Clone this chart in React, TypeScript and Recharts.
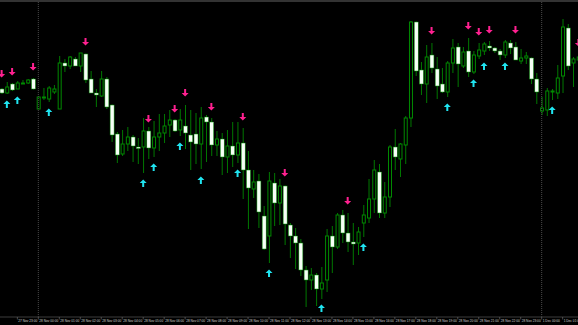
import { ComposedChart, Bar, Scatter, XAxis, YAxis, ReferenceLine } from "recharts";

// M15 candles, prices in chart points (higher = up)
const opens = [
  228, 224, 233, 228, 233.5, 234, 238, 208, 219.5, 218,
  225, 208, 254, 251, 258, 251, 263, 238, 224, 221,
  238, 212, 183, 163, 173, 180, 170, 170, 186, 169,
  180, 184, 192, 197, 187, 191, 182, 183, 173, 200,
  195, 172, 178, 160, 171, 162, 174, 147, 128, 136,
  101, 81, 134, 114, 131, 92, 81, 74, 47, 37,
  42, 28, 37, 81, 70, 102, 84, 75, 74, 94,
  99, 118, 145, 104, 120, 170, 158, 172, 199, 295,
  247, 233, 262, 248, 233, 225, 254, 270, 251, 266,
  245, 261, 266, 271, 269, 266, 262, 274, 270, 256,
  259, 259, 238, 206, 207, 225, 224, 241, 289, 254, 257,
];
const highs = [
  229, 235, 234, 236, 237, 238, 239, 221, 229, 231,
  232, 261, 258, 261, 260, 264, 263.5, 246, 228, 246,
  240, 212.5, 185, 187, 190, 182, 179, 199, 190, 196,
  203, 203, 207, 198, 208, 212, 207, 204, 210, 202,
  199, 186, 184, 187, 195, 195, 189, 166, 147, 143,
  111, 145, 144, 138, 131.5, 94, 89, 78, 51, 49,
  44, 50, 88, 91, 104, 107, 104, 94, 90, 112,
  138, 157, 153, 135, 172, 188, 174, 201, 296, 295.5,
  255, 272, 274, 260, 249, 256, 278, 274, 270, 279,
  266, 274, 275, 276, 270, 268, 277, 277, 275, 268,
  265, 259.5, 244, 220, 229, 228, 252, 298, 293, 260, 262,
];
const lows = [
  223, 223, 226, 228, 233, 233, 227.5, 208, 217, 215,
  223, 208, 245, 248, 251, 245, 234, 224, 210, 220,
  208, 175, 154, 161, 166, 155, 153, 144, 158, 160,
  166, 174, 180, 185, 181, 168, 147, 153, 148, 155,
  161, 161, 142, 144, 150, 154, 118, 88, 119, 89,
  67, 54, 91, 92, 72, 59, 48, 41, 10, 27,
  11, 18, 25, 44, 68, 74, 65, 52, 62, 80,
  94, 104, 99, 99, 110, 147, 140, 153, 190, 241,
  222, 214, 244, 218, 224, 220, 244, 230, 249, 240,
  243, 258, 262, 266, 264, 257, 259, 263, 257, 253,
  253, 233, 213, 202, 201, 217, 218, 224, 247, 230, 255,
];
const closes = [
  224, 230, 227, 234, 234, 237, 228, 220, 220, 229,
  228, 254, 251, 260, 251, 264, 237, 224, 222, 238,
  210, 182, 162, 173, 180, 171, 168.5, 186, 169, 180,
  184, 191, 197, 186, 197, 184, 175, 173, 199, 195,
  172, 178, 160, 171, 162, 174, 147, 129, 135, 105,
  68, 136, 114, 131, 93, 81, 74, 47, 37, 42,
  28, 34, 81, 70, 102, 84, 75, 73, 85, 102,
  118, 147, 104, 120, 170, 160, 173, 199, 295, 246,
  233, 260, 249, 231, 225, 254, 269, 253, 265, 245,
  262, 267, 273, 269, 266, 262, 275, 269, 257, 259,
  261, 238, 225, 209, 226, 226, 239, 290, 251, 258, 260,
];

// [bar, price] of the indicator arrows
const sellSignals = [
  [0, 243], [2, 245], [6, 250], [16, 275], [28, 198], [33, 208], [35, 224], [40, 210],
  [46, 200], [54, 144], [66, 116], [82, 286], [89, 291], [91, 285], [93, 287], [98, 287], [110, 274],
];
const buySignals = [
  [1, 213], [3, 217], [9, 205], [27, 134], [29, 150], [34, 171], [38, 137], [45, 144],
  [51, 44], [61, 9], [69, 70], [85, 210], [90, 234], [92, 251], [96, 251], [105, 207],
];

const tickLabels = [
  "27 Nov 23:00", "28 Nov 00:00", "28 Nov 01:00", "28 Nov 02:00", "28 Nov 03:00", "28 Nov 04:00",
  "28 Nov 05:00", "28 Nov 06:00", "28 Nov 07:00", "28 Nov 08:00", "28 Nov 09:00", "28 Nov 10:00",
  "28 Nov 11:00", "28 Nov 12:00", "28 Nov 13:00", "28 Nov 14:00", "28 Nov 15:00", "28 Nov 16:00",
  "28 Nov 17:00", "28 Nov 18:00", "28 Nov 19:00", "28 Nov 20:00", "28 Nov 21:00", "28 Nov 22:00",
  "28 Nov 23:00", "1 Dec 00:00", "1 Dec 01:00",
];
const firstLabelBar = 3;
const barsPerLabel = 4;
const daySeparators = [7, 103];

const sellMap = new Map(sellSignals.map(([b, p]) => [b, p]));
const buyMap = new Map(buySignals.map(([b, p]) => [b, p]));

const data = opens.map((o, i) => ({
  bar: i,
  open: o,
  high: highs[i],
  low: lows[i],
  close: closes[i],
  sell: sellMap.get(i) ?? null,
  buy: buyMap.get(i) ?? null,
}));

const OUTLINE = "#008a00";
const WICK = "#007800";

const Candle = (props: any) => {
  const { x, y, width, height, payload } = props;
  if (!payload) return <g />;
  const top = Math.min(y, y + height);
  const h = Math.abs(height);
  const range = payload.high - payload.low;
  const k = range > 0 ? h / range : 0;
  const yOf = (v: number) => top + (payload.high - v) * k;
  const bull = payload.close >= payload.open;
  const bTop = yOf(Math.max(payload.open, payload.close));
  const bBot = yOf(Math.min(payload.open, payload.close));
  const bh = Math.max(1, bBot - bTop);
  const cx = x + width / 2;
  return (
    <g>
      <line x1={cx} x2={cx} y1={top} y2={top + h} stroke={WICK} strokeWidth={1} />
      {bull ? (
        <rect x={x + 0.5} y={bTop} width={width - 1} height={bh} fill="#000" stroke={OUTLINE} strokeWidth={1} />
      ) : (
        <rect x={x} y={bTop} width={width} height={bh} fill="#f6fff6" stroke={OUTLINE} strokeWidth={0.5} />
      )}
    </g>
  );
};

const SellArrow = (props: any) => {
  const { cx, cy, payload } = props;
  if (!payload || payload.sell == null) return <g />;
  const pts = [[-1, -4], [1, -4], [1, 0], [3.5, 0], [0, 3.5], [-3.5, 0], [-1, 0]]
    .map(([dx, dy]) => `${cx + dx},${cy + dy}`).join(" ");
  return <polygon points={pts} fill="#ff2090" />;
};

const BuyArrow = (props: any) => {
  const { cx, cy, payload } = props;
  if (!payload || payload.buy == null) return <g />;
  const pts = [[-1, 4], [1, 4], [1, 0], [3.5, 0], [0, -3.5], [-3.5, 0], [-1, 0]]
    .map(([dx, dy]) => `${cx + dx},${cy + dy}`).join(" ");
  return <polygon points={pts} fill="#20e4f0" />;
};

const TimeTick = (props: any) => {
  const { x, payload } = props;
  const n = payload.value - firstLabelBar;
  if (n < 0 || n % barsPerLabel !== 0) return <g />;
  const label = tickLabels[n / barsPerLabel];
  if (!label) return <g />;
  return (
    <g>
      <line x1={x} x2={x} y1={317} y2={319.5} stroke="#777" strokeWidth={0.6} />
      <text x={x + 1} y={322.3} fontSize={3.2} fontFamily="Liberation Sans, Arial" fill="#d0d0d0">
        {label}
      </text>
    </g>
  );
};

const App = () => {
  return (
    <div style={{ position: "fixed", left: 0, top: 0, width: 578, height: 325, background: "#000", overflow: "hidden" }}>
      <div style={{ position: "absolute", left: -1.32, top: 0 }}>
        <ComposedChart width={582} height={325} data={data} margin={{ top: 0, right: 0, bottom: 0, left: 0 }} barCategoryGap={0}>
          <XAxis
            dataKey="bar"
            type="category"
            height={8}
            interval={0}
            tickLine={false}
            axisLine={{ stroke: "#3c3c3c" }}
            tick={<TimeTick />}
          />
          <YAxis hide domain={[0, 317]} allowDataOverflow />
          {daySeparators.map((b) => (
            <ReferenceLine key={b} x={b} stroke="#4a4a4a" strokeDasharray="1 1" />
          ))}
          <Bar
            dataKey={(d: any) => [d.low, d.high]}
            barSize={4}
            shape={<Candle />}
            isAnimationActive={false}
          />
          <Scatter dataKey="sell" shape={<SellArrow />} isAnimationActive={false} />
          <Scatter dataKey="buy" shape={<BuyArrow />} isAnimationActive={false} />
        </ComposedChart>
      </div>
      <div style={{ position: "absolute", left: 0, top: 0, width: 578, height: 2, background: "#333" }} />
    </div>
  );
};

export default App;
